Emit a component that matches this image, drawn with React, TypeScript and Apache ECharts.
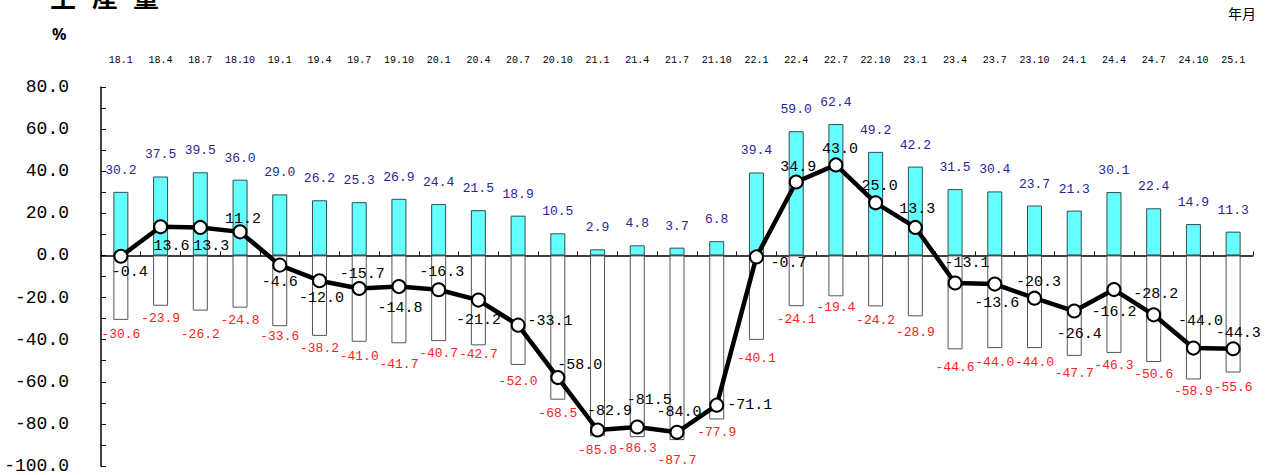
import React, { useEffect, useRef } from "react";
import * as echarts from "echarts";

const categories = [
  "18.1", "18.4", "18.7", "18.10", "19.1", "19.4", "19.7", "19.10", "20.1", "20.4",
  "20.7", "20.10", "21.1", "21.4", "21.7", "21.10", "22.1", "22.4", "22.7", "22.10",
  "23.1", "23.4", "23.7", "23.10", "24.1", "24.4", "24.7", "24.10", "25.1",
];

const positiveValues = [
  30.2, 37.5, 39.5, 36.0, 29.0, 26.2, 25.3, 26.9, 24.4, 21.5,
  18.9, 10.5, 2.9, 4.8, 3.7, 6.8, 39.4, 59.0, 62.4, 49.2,
  42.2, 31.5, 30.4, 23.7, 21.3, 30.1, 22.4, 14.9, 11.3,
];

const negativeValues = [
  -30.6, -23.9, -26.2, -24.8, -33.6, -38.2, -41.0, -41.7, -40.7, -42.7,
  -52.0, -68.5, -85.8, -86.3, -87.7, -77.9, -40.1, -24.1, -19.4, -24.2,
  -28.9, -44.6, -44.0, -44.0, -47.7, -46.3, -50.6, -58.9, -55.6,
];

const lineValues = [
  -0.4, 13.6, 13.3, 11.2, -4.6, -12.0, -15.7, -14.8, -16.3, -21.2,
  -33.1, -58.0, -82.9, -81.5, -84.0, -71.1, -0.7, 34.9, 43.0, 25.0,
  13.3, -13.1, -13.6, -20.3, -26.4, -16.2, -28.2, -44.0, -44.3,
];

const yTickMin = -100;
const yTickMax = 80;
const yTickStep = 20;

// label placement nudges (layout only)
const lineLabelOffsets = [
  [9, 16], [11, 20], [11, 19], [3, -12], [0, 17], [2, 18], [3, -14], [1, 22], [3, -17], [0, 20],
  [32, -4], [22, -12], [12, -18], [12, -27], [2, -20], [33, 0], [32, 7], [2, -14], [4, -15], [4, -16],
  [2, -18], [12, -20], [2, 19], [4, -16], [5, 23], [0, 23], [2, -20], [7, -27], [5, -15],
];
const redLabelNudge = [
  0, -2, 9, -2, -4, -2, 0, 7, -2, -5,
  2, -1, 0, -3, 6, -1, 4, -1, -3, 0,
  2, 4, 0, 0, 3, -2, -2, -2, 0,
];

const MONO = "'Liberation Mono', 'DejaVu Sans Mono', monospace";

export default function App() {
  const ref = useRef<HTMLDivElement>(null);

  useEffect(() => {
    if (!ref.current) return;
    const chart = echarts.init(ref.current, undefined, { renderer: "svg" });

    const option = {
      animation: false,
      backgroundColor: "#ffffff",
      grid: { left: 101, right: 12, top: 87, bottom: 8, containLabel: false },
      xAxis: [
        {
          type: "category",
          data: categories,
          position: "bottom",
          boundaryGap: true,
          axisLine: { show: true, onZero: true, lineStyle: { color: "#000", width: 1.5 } },
          axisTick: { show: true, inside: true, length: 4, interval: 0, lineStyle: { color: "#000" } },
          axisLabel: { show: false },
          splitLine: { show: false },
        },
        {
          type: "category",
          data: categories,
          position: "top",
          boundaryGap: true,
          axisLine: { show: false },
          axisTick: { show: false },
          axisLabel: {
            show: true,
            interval: 0,
            margin: 22,
            fontSize: 10,
            fontFamily: MONO,
            color: "#000",
          },
          splitLine: { show: false },
        },
      ],
      yAxis: {
        type: "value",
        min: yTickMin,
        max: yTickMax,
        interval: yTickStep,
        axisLine: { show: true, lineStyle: { color: "#000", width: 1.5 } },
        axisTick: { show: true, inside: true, length: 5, lineStyle: { color: "#000" } },
        minorTick: { show: true, splitNumber: 2, length: 5, lineStyle: { color: "#000" } },
        splitLine: { show: false },
        axisLabel: {
          margin: 32,
          fontSize: 18,
          fontFamily: MONO,
          color: "#000",
          formatter: (v: number) => v.toFixed(1),
        },
      },
      series: [
        {
          type: "bar",
          name: "positive",
          xAxisIndex: 0,
          data: positiveValues,
          barWidth: 15,
          barGap: "-100%",
          itemStyle: { color: "#66ffff", borderColor: "#2f4f4f", borderWidth: 1 },
          label: {
            show: true,
            position: "top",
            distance: 15,
            fontSize: 13,
            fontFamily: MONO,
            color: "#262699",
            formatter: (p: any) => Number(p.value).toFixed(1),
          },
          z: 2,
        },
        {
          type: "bar",
          name: "negative",
          xAxisIndex: 0,
          data: negativeValues.map((v, i) => ({
            value: v,
            label: { offset: [0, redLabelNudge[i]] },
          })),
          barWidth: 15,
          barGap: "-100%",
          itemStyle: { color: "#ffffff", borderColor: "#555555", borderWidth: 1 },
          label: {
            show: true,
            position: "bottom",
            distance: 8,
            fontSize: 13,
            fontFamily: MONO,
            color: "#ff2020",
            formatter: (p: any) => Number(p.value).toFixed(1),
          },
          z: 2,
        },
        {
          type: "line",
          name: "line",
          xAxisIndex: 0,
          data: lineValues.map((v, i) => ({
            value: v,
            label: { offset: lineLabelOffsets[i] },
          })),
          symbol: "circle",
          symbolSize: 13,
          lineStyle: { color: "#000", width: 4.5 },
          itemStyle: { color: "#ffffff", borderColor: "#000", borderWidth: 2 },
          label: {
            show: true,
            position: ["50%", "50%"],
            align: "center",
            verticalAlign: "middle",
            fontSize: 15,
            fontFamily: MONO,
            color: "#000",
            formatter: (p: any) => Number(p.value).toFixed(1),
          },
          z: 5,
        },
      ],
      graphic: [
        { type: "text", left: 50, top: -18, style: { text: "生", font: "bold 26px 'Noto Sans CJK JP'", fill: "#000" } },
        { type: "text", left: 92, top: -18, style: { text: "産", font: "bold 26px 'Noto Sans CJK JP'", fill: "#000" } },
        { type: "text", left: 133, top: -18, style: { text: "量", font: "bold 26px 'Noto Sans CJK JP'", fill: "#000" } },
        { type: "text", left: 52, top: 26, style: { text: "%", font: "bold 16px 'Noto Sans', sans-serif", fill: "#000" } },
        { type: "text", left: 1228, top: 6, style: { text: "年月", font: "14px 'Noto Sans CJK JP'", fill: "#000" } },
      ],
    };

    chart.setOption(option as any);
    return () => chart.dispose();
  }, []);

  return (
    <div
      ref={ref}
      style={{ position: "fixed", left: 0, top: 0, width: 1265, height: 475, background: "#fff" }}
    />
  );
}
